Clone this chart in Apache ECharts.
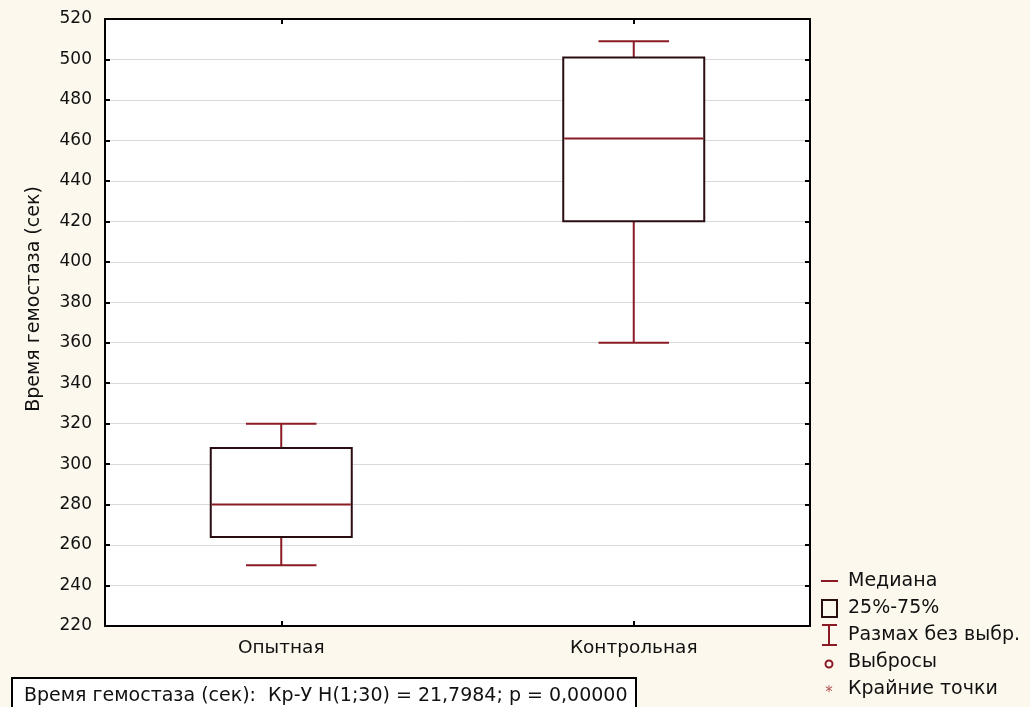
<!DOCTYPE html>
<html><head><meta charset="utf-8">
<script src="https://cdn.jsdelivr.net/npm/echarts@6/dist/echarts.min.js"></script>
<style>html,body{margin:0;padding:0;background:#fcf8ed;}#c{width:1030px;height:707px;}</style>
</head><body><div id="c"></div>
<script>
const categories = ['Опытная', 'Контрольная'];
const whiskerLow = [250, 360];
const q1Values = [264, 420];
const medians = [280, 461];
const q3Values = [308, 501];
const whiskerHigh = [320, 509];
const yTicks = {min: 220, max: 520, step: 20};

const boxColor = '#2a0d10';
const whiskColor = '#8b1a24';
const FONT = '"DejaVu Sans", "Liberation Sans", Arial, sans-serif';

const data = categories.map((c, i) => [i, whiskerLow[i], q1Values[i], medians[i], q3Values[i], whiskerHigh[i]]);

function renderItem(params, api) {
  const idx = api.value(0);
  const lo = api.coord([idx, api.value(1)]);
  const p1 = api.coord([idx, api.value(2)]);
  const pm = api.coord([idx, api.value(3)]);
  const p3 = api.coord([idx, api.value(4)]);
  const hi = api.coord([idx, api.value(5)]);
  const band = api.size([1, 0])[0];
  const bw = band * 0.4;
  const cw = bw * 0.5;
  const x = lo[0];
  const wStyle = {stroke: whiskColor, lineWidth: 2};
  return {
    type: 'group',
    children: [
      {type: 'line', shape: {x1: x, y1: hi[1], x2: x, y2: p3[1]}, style: wStyle},
      {type: 'line', shape: {x1: x, y1: p1[1], x2: x, y2: lo[1]}, style: wStyle},
      {type: 'line', shape: {x1: x - cw / 2, y1: hi[1], x2: x + cw / 2, y2: hi[1]}, style: wStyle},
      {type: 'line', shape: {x1: x - cw / 2, y1: lo[1], x2: x + cw / 2, y2: lo[1]}, style: wStyle},
      {type: 'rect', shape: {x: x - bw / 2, y: p3[1], width: bw, height: p1[1] - p3[1]},
        style: {fill: '#ffffff', stroke: boxColor, lineWidth: 2}},
      {type: 'line', shape: {x1: x - bw / 2 + 1, y1: pm[1], x2: x + bw / 2 - 1, y2: pm[1]}, style: wStyle}
    ]
  };
}

const chart = echarts.init(document.getElementById('c'));
const axisLineStyle = {show: true, lineStyle: {color: '#000', width: 2}};
const leg = [];
const lx = 821, ltx = 848;
const ly = [581, 608, 635, 662, 689];
leg.push({type: 'line', shape: {x1: lx, y1: ly[0], x2: lx + 17, y2: ly[0]}, style: {stroke: whiskColor, lineWidth: 2}});
leg.push({type: 'rect', shape: {x: lx + 1, y: ly[1] - 8, width: 15, height: 17}, style: {fill: 'none', stroke: boxColor, lineWidth: 2}});
leg.push({type: 'line', shape: {x1: lx + 8, y1: ly[2] - 10, x2: lx + 8, y2: ly[2] + 10}, style: {stroke: whiskColor, lineWidth: 2}});
leg.push({type: 'line', shape: {x1: lx + 1, y1: ly[2] - 10, x2: lx + 16, y2: ly[2] - 10}, style: {stroke: whiskColor, lineWidth: 2}});
leg.push({type: 'line', shape: {x1: lx + 1, y1: ly[2] + 10, x2: lx + 16, y2: ly[2] + 10}, style: {stroke: whiskColor, lineWidth: 2}});
leg.push({type: 'circle', shape: {cx: lx + 8, cy: ly[3] + 2, r: 3.5}, style: {fill: 'none', stroke: whiskColor, lineWidth: 2}});
leg.push({type: 'text', x: lx + 8, y: ly[4] + 4, style: {text: '*', font: '15px ' + FONT, fill: '#b05050', align: 'center', verticalAlign: 'middle'}});
const legTexts = ['Медиана', '25%-75%', 'Размах без выбр.', 'Выбросы', 'Крайние точки'];
legTexts.forEach((t, i) => leg.push({type: 'text', x: ltx, y: ly[i], style: {text: t, font: '19px ' + FONT, fill: '#111', verticalAlign: 'middle'}}));

chart.setOption({
  backgroundColor: '#fcf8ed',
  animation: false,
  grid: {left: 105, right: 220, top: 19, bottom: 81, show: true, backgroundColor: '#ffffff', borderWidth: 0},
  xAxis: [
    {type: 'category', data: categories, position: 'bottom', boundaryGap: true,
      axisLine: axisLineStyle,
      axisTick: {show: true, inside: true, alignWithLabel: true, length: 5, lineStyle: {color: '#000', width: 2}},
      axisLabel: {color: '#111', fontSize: 18.5, fontFamily: FONT, margin: 13}},
    {type: 'category', data: categories, position: 'top', boundaryGap: true,
      axisLine: axisLineStyle,
      axisTick: {show: true, inside: true, alignWithLabel: true, length: 5, lineStyle: {color: '#000', width: 2}},
      axisLabel: {show: false}}
  ],
  yAxis: [
    {type: 'value', min: yTicks.min, max: yTicks.max, interval: yTicks.step, position: 'left',
      axisLine: axisLineStyle,
      axisTick: {show: true, inside: true, length: 5, lineStyle: {color: '#000', width: 2}},
      axisLabel: {color: '#111', fontSize: 17, fontFamily: FONT, margin: 13},
      splitLine: {show: true, lineStyle: {color: '#d9d9d9', width: 1}}},
    {type: 'value', min: yTicks.min, max: yTicks.max, interval: yTicks.step, position: 'right',
      axisLine: axisLineStyle,
      axisTick: {show: true, inside: true, length: 5, lineStyle: {color: '#000', width: 2}},
      axisLabel: {show: false}, splitLine: {show: false}}
  ],
  series: [{type: 'custom', xAxisIndex: 0, yAxisIndex: 0, renderItem: renderItem, data: data,
    encode: {x: 0, y: [1, 2, 3, 4, 5]}, z: 5}],
  graphic: [
    {type: 'text', x: 34, y: 299, rotation: Math.PI / 2,
      style: {text: 'Время гемостаза (сек)', font: '19px ' + FONT, fill: '#111', align: 'center', verticalAlign: 'middle'}},
    {type: 'rect', shape: {x: 12, y: 678, width: 624, height: 34}, style: {fill: '#ffffff', stroke: '#000', lineWidth: 2}},
    {type: 'text', x: 24, y: 696, style: {text: 'Время гемостаза (сек):  Кр-У H(1;30) = 21,7984; p = 0,00000', font: '19px ' + FONT, fill: '#111', verticalAlign: 'middle'}}
  ].concat(leg)
});
</script>
</body></html>
